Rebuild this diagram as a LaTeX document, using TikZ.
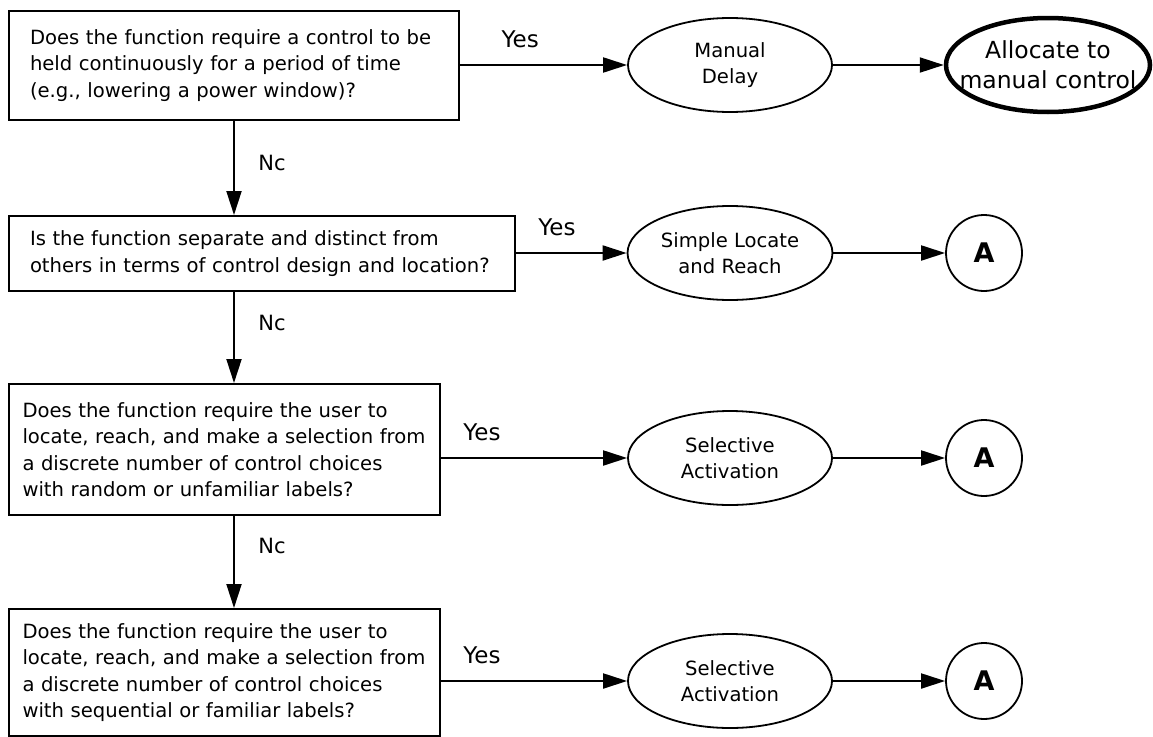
\documentclass[tikz,border=0pt]{standalone}
\usepackage{fontspec}
\setmainfont{DejaVu Sans}
\usetikzlibrary{
	shapes.geometric,
	arrows.meta
}

\begin{document}
\begin{tikzpicture}[
	x = 1pt, y = -1pt,
	question/.style = {
		rectangle, draw, line width=2pt,
		anchor=north west,
		align=left, inner xsep=21pt,
		font=\fontsize{19.6}{26.5}\selectfont
	},
	answer/.style = {
		ellipse, draw, line width=1.8pt,
		minimum width=204pt, minimum height=94pt,
		align=center,
		font=\fontsize{19.6}{26}\selectfont
	},
	manual/.style = {
		answer, line width=4.5pt
	},
	goto/.style = {
		circle, draw, line width=1.8pt,
		minimum size=76pt, inner sep=0pt,
		font=\fontsize{27}{27}\selectfont\bfseries
	},
	flow/.style = {
		line width=2pt,
		-{Triangle[length=24pt, width=15pt]}
	},
	yeslabel/.style args = {#1}{
		pos=#1, yshift=26pt,
		font=\fontsize{23}{23}\selectfont
	},
	nolabel/.style args = {#1}{
		pos=#1, anchor=west, xshift=20pt,
		font=\fontsize{21}{21}\selectfont
	}
]
	\useasboundingbox (0,0) rectangle (1153,736);

	% questions
	\node [question, text width=408pt, minimum height=109pt] (q1) at (8,10)
		{Does the function require a control to be\\
		 held continuously for a period of time\\
		 (e.g., lowering a power window)?};
	\node [question, text width=464pt, minimum height=75pt] (q2) at (8,215)
		{Is the function separate and distinct from\\
		 others in terms of control design and location?};
	\node [question, text width=404pt, inner xsep=13.5pt, minimum height=131pt] (q3) at (8,383)
		{Does the function require the user to\\
		 locate, reach, and make a selection from\\
		 a discrete number of control choices\\
		 with random or unfamiliar labels?};
	\node [question, text width=404pt, inner xsep=13.5pt, minimum height=127pt] (q4) at (8,608)
		{Does the function require the user to\\
		 locate, reach, and make a selection from\\
		 a discrete number of control choices\\
		 with sequential or familiar labels?};

	% outcomes
	\node [answer] (d1) at (730,65) {Manual\\Delay};
	\node [answer] (d2) at (730,253) {Simple Locate\\and Reach};
	\node [answer] (d3) at (730,458) {Selective\\Activation};
	\node [answer] (d4) at (730,681) {Selective\\Activation};

	\node [manual, label={[align=center, font=\fontsize{23.5}{30}\selectfont]center:Allocate to\\manual control}] (alloc) at (1048,65) {};
	\node [goto] (a2) at (984,253) {A};
	\node [goto] (a3) at (984,458) {A};
	\node [goto] (a4) at (984,681) {A};

	% yes branches
	\draw [flow] (q1.east |- d1) -- node [yeslabel=0.36] (y1) {Yes} (d1);
	\draw [flow] (q2.east |- d2) -- node [yeslabel=0.37] (y2) {Yes} (d2);
	\draw [flow] (q3.east |- d3) -- node [yeslabel=0.22] (y3) {Yes} (d3);
	\draw [flow] (q4.east |- d4) -- node [yeslabel=0.22] (y4) {Yes} (d4);

	\draw [flow] (d1) -- (alloc);
	\draw [flow] (d2) -- (a2);
	\draw [flow] (d3) -- (a3);
	\draw [flow] (d4) -- (a4);

	% no branches
	\draw [flow] (q1.south) -- node [nolabel=0.45] (n1) {Nc} (q1.south |- q2.north);
	\draw [flow] (q2.south -| q1.south) -- node [nolabel=0.34] (n2) {Nc} (q3.north -| q1.south);
	\draw [flow] (q3.south -| q1.south) -- node [nolabel=0.33] (n3) {Nc} (q4.north -| q1.south);
\end{tikzpicture}
\end{document}
